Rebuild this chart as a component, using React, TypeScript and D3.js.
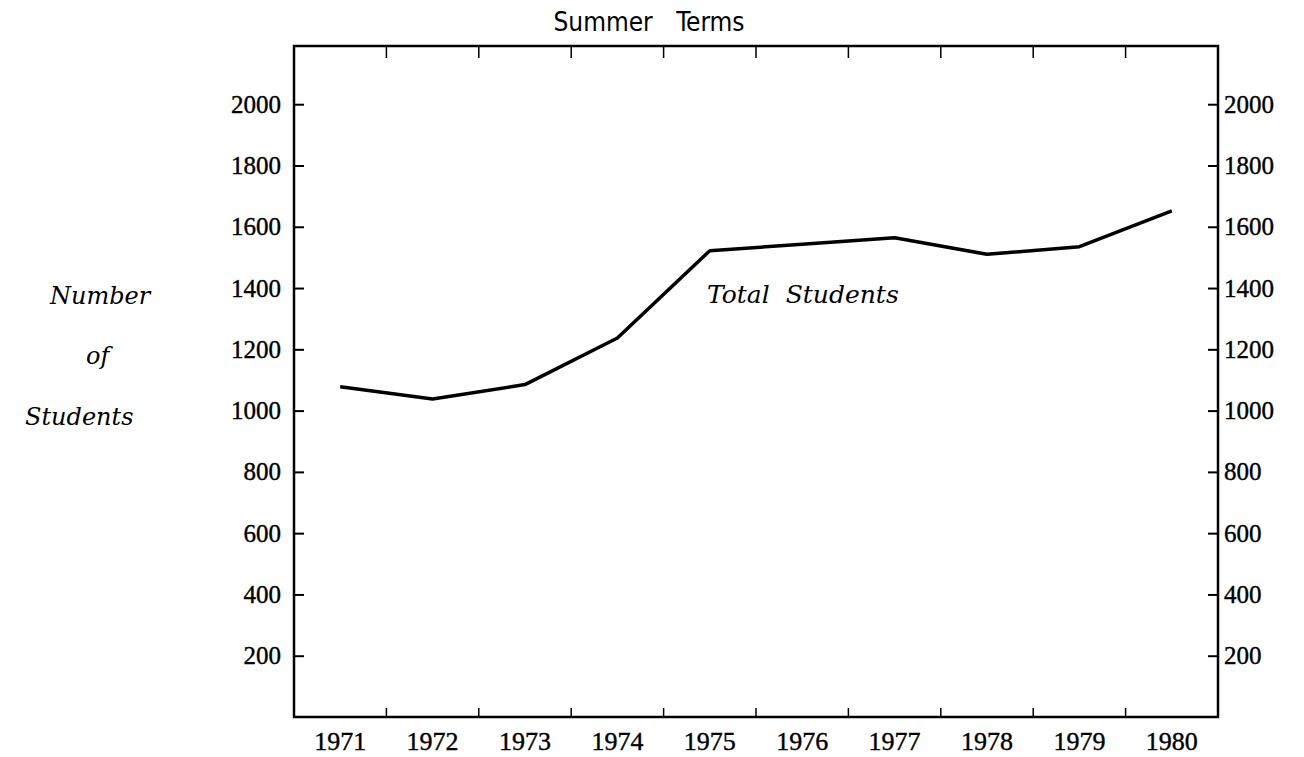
import React, {useEffect, useRef} from 'react';
import * as d3 from 'd3';

const years = ['1971', '1972', '1973', '1974', '1975', '1976', '1977', '1978', '1979', '1980'];
const totalStudents = [1078, 1038, 1085, 1237, 1522, 1543, 1564, 1510, 1535, 1652];
const yTicks = [200, 400, 600, 800, 1000, 1200, 1400, 1600, 1800, 2000];

export default function App() {
    const ref = useRef<SVGSVGElement>(null);

    useEffect(() => {
        const W = 1304, H = 757;
        const left = 294, right = 1218, top = 46, bottom = 717;
        const svg = d3.select(ref.current);
        svg.selectAll('*').remove();

        const x = d3.scaleBand().domain(years).range([left, right]);
        const y = d3.scaleLinear().domain([0, 2190]).range([bottom, top]);
        const serif = '"Liberation Serif", "DejaVu Serif", serif';
        const wide = '"DejaVu Serif", serif';

        // title
        svg.append('text')
            .attr('x', 649).attr('y', 31)
            .attr('text-anchor', 'middle')
            .attr('font-family', '"Liberation Sans Narrow", "DejaVu Sans Condensed", "Liberation Sans", sans-serif')
            .attr('font-size', 26)
            .attr('word-spacing', 16)
            .text('Summer Terms');

        // y axis title, three lines
        const ylab = [['Number', 50, 304], ['of', 86, 364], ['Students', 25, 425]];
        ylab.forEach(([t, tx, ty]) => {
            svg.append('text')
                .attr('x', tx as number).attr('y', ty as number)
                .attr('font-family', wide).attr('font-style', 'italic')
                .attr('font-size', 24)
                .text(t as string);
        });

        // left axis
        const gl = svg.append('g')
            .attr('transform', `translate(${left},0)`)
            .call(d3.axisLeft(y).tickValues(yTicks).tickSize(-10).tickPadding(13).tickFormat(d3.format('d')));
        // right axis
        const gr = svg.append('g')
            .attr('transform', `translate(${right},0)`)
            .call(d3.axisRight(y).tickValues(yTicks).tickSize(-10).tickPadding(6).tickFormat(d3.format('d')));
        // bottom labels
        const gb = svg.append('g')
            .attr('transform', `translate(0,${bottom})`)
            .call(d3.axisBottom(x).tickSize(0).tickPadding(15));

        [gl, gr, gb].forEach(g => {
            g.select('.domain').remove();
            g.selectAll('line').attr('stroke', '#000').attr('stroke-width', 2);
            g.selectAll('text').attr('font-family', serif).attr('font-size', 25).attr('fill', '#000')
                .attr('stroke', '#000').attr('stroke-width', 0.4);
        });
        gb.selectAll('text').attr('font-size', 26);

        // ticks between years, bottom and top
        const bounds = years.slice(1).map(yr => x(yr) as number);
        svg.append('g').selectAll('line').data(bounds).join('line')
            .attr('x1', d => d).attr('x2', d => d)
            .attr('y1', bottom).attr('y2', bottom - 9)
            .attr('stroke', '#000').attr('stroke-width', 1.5);
        svg.append('g').selectAll('line').data(bounds).join('line')
            .attr('x1', d => d).attr('x2', d => d)
            .attr('y1', top).attr('y2', top + 12)
            .attr('stroke', '#000').attr('stroke-width', 1.5);

        // frame
        svg.append('rect')
            .attr('x', left).attr('y', top)
            .attr('width', right - left).attr('height', bottom - top)
            .attr('fill', 'none').attr('stroke', '#000').attr('stroke-width', 2.5);

        // the line
        const data = years.map((yr, i) => ({year: yr, value: totalStudents[i]}));
        svg.append('path')
            .datum(data)
            .attr('fill', 'none')
            .attr('stroke', '#000')
            .attr('stroke-width', 3.5)
            .attr('stroke-linejoin', 'round')
            .attr('d', d3.line<{year: string, value: number}>()
                .x(d => (x(d.year) as number) + x.bandwidth() / 2)
                .y(d => y(d.value)));

        // series label
        svg.append('text')
            .attr('x', 707).attr('y', 303)
            .attr('font-family', wide).attr('font-style', 'italic')
            .attr('font-size', 25)
            .attr('word-spacing', 8)
            .text('Total Students');

        svg.attr('width', W).attr('height', H);
    }, []);

    return (
        <svg ref={ref} width={1304} height={757} style={{position: 'absolute', left: 0, top: 0, background: '#fff'}}></svg>
    );
}
